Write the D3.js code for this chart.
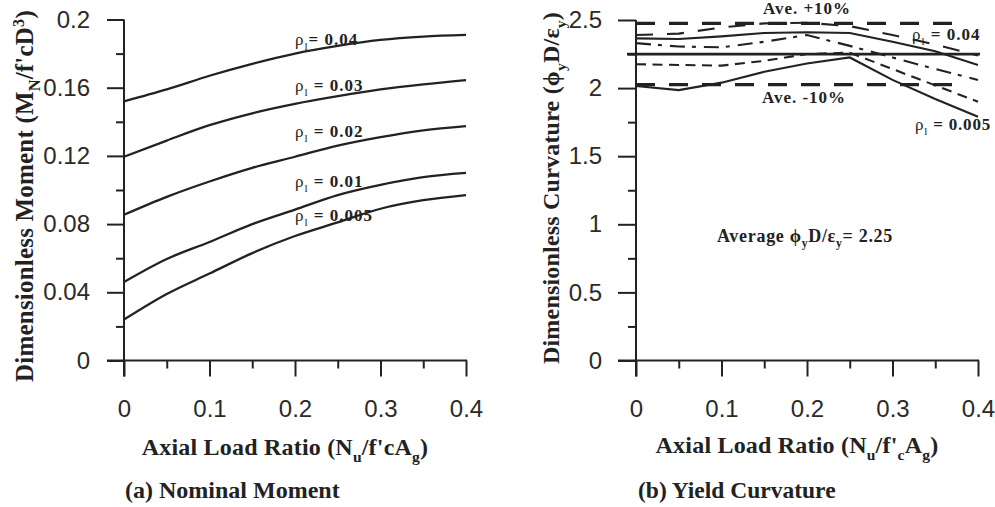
<!DOCTYPE html>
<html><head><meta charset="utf-8">
<script src="https://cdn.jsdelivr.net/npm/d3@7"></script>
<style>
html,body{margin:0;padding:0;background:#fff;}
svg{display:block;}
.tick text{font-family:"Liberation Sans",Arial,sans-serif;font-size:24px;fill:#2a2a2a;}
.ser{font-family:"Liberation Serif","Times New Roman",serif;font-weight:bold;fill:#222;}
</style></head>
<body>
<svg id="chart" width="995" height="507"></svg>
<script>
// ---------- data ----------
const axialRatio = [0, 0.05, 0.1, 0.15, 0.2, 0.25, 0.3, 0.35, 0.4];
const xTickValues = [0, 0.1, 0.2, 0.3, 0.4];
const momentTicks = [0, 0.04, 0.08, 0.12, 0.16, 0.2];
const curvatureTicks = [0, 0.5, 1, 1.5, 2, 2.5];

// (a) nominal moment M_N / f'c D^3
const moment005 = [0.024, 0.039, 0.051, 0.063, 0.073, 0.081, 0.089, 0.094, 0.097];
const moment01  = [0.046, 0.0595, 0.0695, 0.080, 0.0885, 0.097, 0.103, 0.1075, 0.110];
const moment02  = [0.0855, 0.096, 0.105, 0.113, 0.1195, 0.126, 0.131, 0.135, 0.1375];
const moment03  = [0.1195, 0.129, 0.138, 0.145, 0.1505, 0.155, 0.159, 0.162, 0.1645];
const moment04  = [0.152, 0.159, 0.167, 0.174, 0.180, 0.1845, 0.188, 0.190, 0.191];
const momentLabels = ["0.04", "0.03", "0.02", "0.01", "0.005"];

// (b) yield curvature phi_y D / eps_y
const curv04  = [2.39, 2.40, 2.445, 2.475, 2.48, 2.455, 2.39, 2.32, 2.24];
const curv03  = [2.365, 2.36, 2.38, 2.405, 2.41, 2.405, 2.34, 2.27, 2.17];
const curv02  = [2.33, 2.305, 2.30, 2.34, 2.39, 2.31, 2.225, 2.14, 2.06];
const curv01  = [2.175, 2.17, 2.165, 2.20, 2.25, 2.26, 2.14, 2.02, 1.90];
const curv005 = [2.015, 1.985, 2.04, 2.12, 2.18, 2.225, 2.06, 1.92, 1.79];
const curvAverage = 2.25;
const curvPlus10 = 2.475;
const curvMinus10 = 2.025;
const bandEnd = 0.385;

// ---------- drawing ----------
const svg = d3.select("#chart");
const ink = "#222";

function rich(parent, x, y, parts, fs, anchor, rotate, spacing) {
  const t = parent.append("text").attr("class", "ser")
    .attr("font-size", fs + "px").attr("text-anchor", anchor || "start");
  if (spacing) t.attr("letter-spacing", spacing + "px");
  if (rotate) t.attr("transform", `translate(${x},${y}) rotate(-90)`).attr("x", 0).attr("y", 0);
  else t.attr("x", x).attr("y", y);
  let shift = 0;
  parts.forEach(p => {
    const s = t.append("tspan").text(p.t);
    let target = 0;
    if (p.s === "sub") { target = fs * 0.28; s.attr("font-size", (fs * 0.65) + "px"); }
    else if (p.s === "sup") { target = -fs * 0.38; s.attr("font-size", (fs * 0.65) + "px"); }
    if (p.w) s.attr("font-weight", p.w);
    if (target !== shift) { s.attr("dy", target - shift); shift = target; }
  });
  return t;
}

function drawAxes(g, x, y, yMajor, yMinor, yFmt, yTickLen, yPad) {
  const y0 = y(0), x0 = x(0);
  g.append("g").attr("transform", `translate(${x0},0)`)
    .call(d3.axisLeft(y).tickValues(yMinor).tickSize(8).tickFormat(""))
    .call(a => a.select(".domain").remove());
  g.append("g").attr("transform", `translate(0,${y0})`)
    .call(d3.axisBottom(x).tickValues([0.05, 0.15, 0.25, 0.35]).tickSize(8).tickFormat(""))
    .call(a => a.select(".domain").remove());
  g.append("g").attr("transform", `translate(${x0},0)`)
    .call(d3.axisLeft(y).tickValues(yMajor).tickSize(yTickLen).tickPadding(yPad).tickFormat(yFmt))
    .call(a => a.select(".domain").remove());
  g.append("g").attr("transform", `translate(0,${y0})`)
    .call(d3.axisBottom(x).tickValues(xTickValues).tickSize(16).tickPadding(23).tickFormat(d3.format("~g")))
    .call(a => a.select(".domain").remove());
  g.selectAll(".tick line").attr("stroke", ink).attr("stroke-width", 2);
  g.append("line").attr("x1", x0).attr("x2", x0).attr("y1", y(yMajor[yMajor.length - 1])).attr("y2", y0 + 16)
    .attr("stroke", ink).attr("stroke-width", 2);
  g.append("line").attr("x1", x0 - yTickLen).attr("x2", x(0.4) + 1).attr("y1", y0).attr("y2", y0)
    .attr("stroke", ink).attr("stroke-width", 2);
}

// ----- panel (a) -----
const xa = d3.scaleLinear().domain([0, 0.4]).range([124, 466]);
const ya = d3.scaleLinear().domain([0, 0.2]).range([360.5, 19.5]);
const ga = svg.append("g");
drawAxes(ga, xa, ya, momentTicks, [0.02, 0.06, 0.1, 0.14, 0.18], d3.format("~g"), 17, 17);

const lineA = d3.line().x((d, i) => xa(axialRatio[i])).y(d => ya(d)).curve(d3.curveMonotoneX);
[moment04, moment03, moment02, moment01, moment005].forEach(s => {
  ga.append("path").attr("d", lineA(s)).attr("fill", "none").attr("stroke", ink).attr("stroke-width", 2.3);
});
const momentLabelY = [45, 91, 137, 187, 221];
momentLabels.forEach((lab, i) => {
  rich(ga, 295, momentLabelY[i], [{t: "ρ", w: "normal"}, {t: "l", s: "sub", w: "normal"}, {t: (i === 0 ? "= " : " = ") + lab}], 17, "start", false, 1);
});
rich(ga, 33, 196, [{t: "Dimensionless Moment (M"}, {t: "N", s: "sub"}, {t: "/f'cD"}, {t: "3", s: "sup"}, {t: ")"}], 25, "middle", true, 0.2);
rich(ga, 285, 455, [{t: "Axial Load Ratio (N"}, {t: "u", s: "sub"}, {t: "/f'cA"}, {t: "g", s: "sub"}, {t: ")"}], 24, "middle", false, 0.2);
rich(ga, 125, 498, [{t: "(a) Nominal Moment"}], 24);

// ----- panel (b) -----
const xb = d3.scaleLinear().domain([0, 0.4]).range([636, 978]);
const yb = d3.scaleLinear().domain([0, 2.5]).range([360.5, 20]);
const gb = svg.append("g");
drawAxes(gb, xb, yb, curvatureTicks, [0.25, 0.75, 1.25, 1.75, 2.25], d3.format("~g"), 18, 16);

const lineB = d3.line().x((d, i) => xb(axialRatio[i])).y(d => yb(d));
[curvPlus10, curvMinus10].forEach(v => {
  gb.append("path").attr("d", d3.line()([[xb(0), yb(v)], [xb(bandEnd), yb(v)]]))
    .attr("stroke", ink).attr("stroke-width", 3.2).attr("stroke-dasharray", "19,14").attr("fill", "none");
});
gb.append("path").attr("d", d3.line()([[xb(0) - 9, yb(curvAverage)], [xb(0.4) + 2, yb(curvAverage)]]))
  .attr("stroke", ink).attr("stroke-width", 2.8).attr("fill", "none");

const curvSeries = [
  {v: curv04, dash: "17,14"},
  {v: curv03, dash: null},
  {v: curv02, dash: "15,7,4,8"},
  {v: curv01, dash: "10,6.5"},
  {v: curv005, dash: null}
];
curvSeries.forEach(s => {
  const p = gb.append("path").attr("d", lineB(s.v)).attr("fill", "none").attr("stroke", ink).attr("stroke-width", 2.1);
  if (s.dash) p.attr("stroke-dasharray", s.dash);
});

rich(gb, 807, 13.5, [{t: "Ave. +10%"}], 17, "middle", false, 1);
rich(gb, 804, 103, [{t: "Ave. -10%"}], 17, "middle", false, 1);
rich(gb, 912, 40, [{t: "ρ", w: "normal"}, {t: "l", s: "sub", w: "normal"}, {t: " = 0.04"}], 17, "start", false, 1);
rich(gb, 915, 130, [{t: "ρ", w: "normal"}, {t: "l", s: "sub", w: "normal"}, {t: " = 0.005"}], 17, "start", false, 0.8);
rich(gb, 717, 242, [{t: "Average ϕ"}, {t: "y", s: "sub"}, {t: "D/ε"}, {t: "y", s: "sub"}, {t: "= 2.25"}], 18, "start", false, 0.7);
rich(gb, 559, 188, [{t: "Dimensionless Curvature (ϕ"}, {t: "y", s: "sub"}, {t: "D/ε"}, {t: "y", s: "sub"}, {t: ")"}], 24, "middle", true, 0.2);
rich(gb, 797, 453, [{t: "Axial Load Ratio (N"}, {t: "u", s: "sub"}, {t: "/f'"}, {t: "c", s: "sub"}, {t: "A"}, {t: "g", s: "sub"}, {t: ")"}], 24, "middle", false, 0.2);
rich(gb, 638, 498, [{t: "(b) Yield Curvature"}], 23.5);
</script>
</body></html>
